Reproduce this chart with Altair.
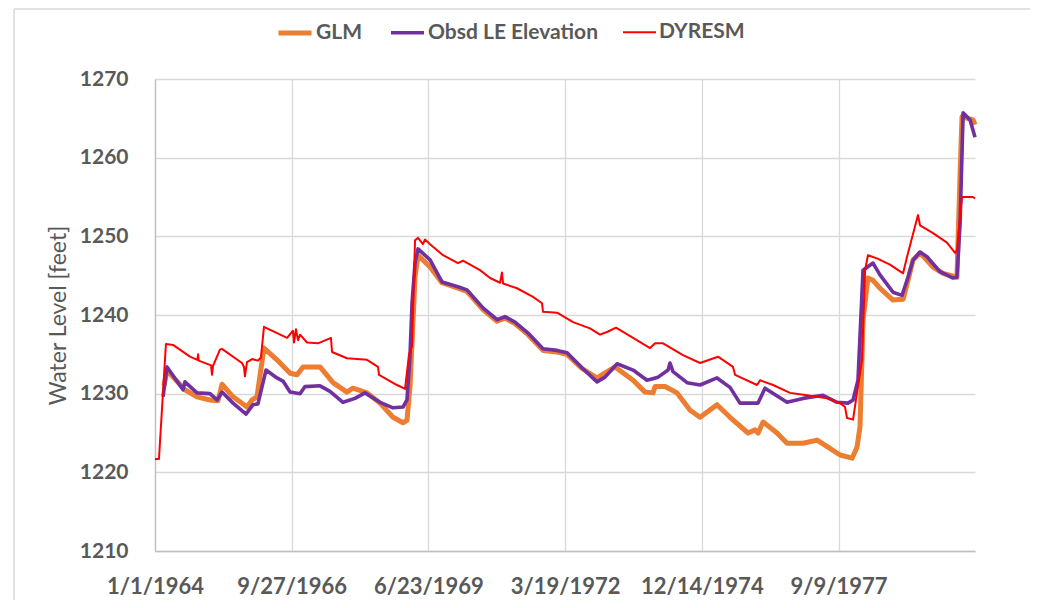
import altair as alt
import pandas as pd

BASE = pd.Timestamp("1964-01-01")

# ---- data: days since 1/1/1964 and water level (feet) ----
glm_days = [66, 88, 132, 219, 307, 402, 461, 490, 571, 673, 710, 746, 797, 892, 988, 1039, 1083,
            1207, 1302, 1404, 1448, 1551, 1646, 1741, 1814, 1843, 1865, 1902, 1924, 2012, 2099,
            2216, 2282, 2399, 2502, 2560, 2633, 2729, 2838, 2941, 3014, 3123, 3233, 3365, 3497,
            3585, 3643, 3658, 3731, 3819, 3914, 3987, 4111, 4206, 4338, 4389, 4411, 4448, 4550,
            4623, 4740, 4843, 4923, 5011, 5099, 5135, 5157, 5179, 5215, 5252, 5303, 5398, 5472,
            5508, 5545, 5596, 5691, 5764, 5866, 5889, 5903, 5984, 5998]
glm_ft = [1231.0, 1233.0, 1232.1, 1230.5, 1229.6, 1229.2, 1229.1, 1231.2, 1229.6, 1228.3, 1229.2,
          1229.6, 1235.8, 1234.3, 1232.6, 1232.4, 1233.4, 1233.4, 1231.4, 1230.2, 1230.7, 1230.1,
          1228.8, 1227.0, 1226.3, 1226.6, 1230.8, 1244.8, 1247.6, 1246.1, 1244.1, 1243.4, 1243.0,
          1240.7, 1239.2, 1239.6, 1238.9, 1237.5, 1235.5, 1235.3, 1235.0, 1233.2, 1232.0, 1233.4,
          1231.7, 1230.2, 1230.1, 1230.9, 1230.9, 1230.1, 1227.9, 1227.0, 1228.6, 1227.0, 1225.0,
          1225.4, 1225.0, 1226.4, 1225.0, 1223.7, 1223.7, 1224.1, 1223.2, 1222.2, 1221.8, 1223.2,
          1225.8, 1239.4, 1244.7, 1244.4, 1243.4, 1241.9, 1242.0, 1244.4, 1247.0, 1247.9, 1246.1,
          1245.3, 1244.8, 1258.0, 1265.2, 1264.8, 1264.2]

obs_days = [59, 88, 205, 219, 307, 402, 454, 490, 571, 666, 717, 753, 812, 892, 936, 988, 1061,
            1097, 1207, 1280, 1375, 1463, 1536, 1646, 1741, 1814, 1843, 1865, 1880, 1902, 1924,
            2012, 2099, 2216, 2282, 2399, 2502, 2560, 2633, 2729, 2838, 2941, 3014, 3123, 3233,
            3292, 3380, 3497, 3599, 3680, 3753, 3767, 3789, 3892, 3987, 4111, 4206, 4279, 4411,
            4462, 4623, 4740, 4886, 4989, 5069, 5106, 5142, 5179, 5252, 5303, 5398, 5464, 5508,
            5545, 5596, 5647, 5742, 5837, 5866, 5889, 5911, 5962, 5998]
obs_ft = [1229.6, 1233.4, 1230.5, 1231.5, 1230.1, 1230.0, 1229.2, 1230.2, 1228.8, 1227.4, 1228.6,
          1228.7, 1233.0, 1232.0, 1231.6, 1230.2, 1230.0, 1230.9, 1231.0, 1230.3, 1228.9, 1229.4,
          1230.1, 1228.9, 1228.2, 1228.3, 1229.2, 1234.7, 1241.5, 1246.6, 1248.4, 1247.0, 1244.2,
          1243.6, 1243.2, 1240.9, 1239.4, 1239.8, 1239.1, 1237.7, 1235.7, 1235.5, 1235.2, 1233.3,
          1231.5, 1232.1, 1233.8, 1233.0, 1231.7, 1232.1, 1233.0, 1233.9, 1232.8, 1231.4, 1231.1,
          1232.0, 1230.8, 1228.8, 1228.8, 1230.7, 1228.9, 1229.4, 1229.8, 1228.9, 1228.8, 1229.2,
          1231.7, 1245.7, 1246.6, 1245.1, 1242.9, 1242.5, 1244.8, 1247.0, 1248.0, 1247.4, 1245.5,
          1244.7, 1244.8, 1251.7, 1265.7, 1264.8, 1262.6]

dyr_days = [0, 29, 80, 132, 256, 310, 315, 320, 410, 417, 424, 475, 490, 636, 651, 658, 673, 710,
            753, 775, 797, 966, 1009, 1017, 1031, 1046, 1061, 1112, 1192, 1287, 1295, 1404, 1551,
            1631, 1639, 1770, 1829, 1858, 1880, 1902, 1924, 1960, 1975, 2012, 2107, 2216, 2253,
            2377, 2451, 2524, 2538, 2546, 2648, 2765, 2831, 2838, 2941, 3058, 3182, 3255, 3314,
            3372, 3497, 3621, 3658, 3716, 3862, 3987, 4118, 4228, 4243, 4404, 4426, 4521, 4645,
            4769, 4916, 5011, 5047, 5062, 5106, 5135, 5172, 5194, 5215, 5281, 5376, 5472, 5501,
            5537, 5581, 5596, 5691, 5793, 5852, 5866, 5874, 5903, 5984, 5998]
dyr_ft = [1221.7, 1221.7, 1236.3, 1236.2, 1234.7, 1234.3, 1235.0, 1234.2, 1233.6, 1232.4, 1233.5,
          1235.6, 1235.7, 1233.9, 1233.4, 1232.2, 1234.0, 1234.4, 1234.2, 1234.6, 1238.5, 1237.1,
          1238.0, 1236.5, 1238.2, 1236.8, 1237.5, 1236.5, 1236.4, 1237.1, 1235.3, 1234.5, 1234.3,
          1233.4, 1232.4, 1231.1, 1230.6, 1235.0, 1236.0, 1249.5, 1249.8, 1249.0, 1249.6, 1249.0,
          1247.6, 1246.6, 1246.9, 1245.7, 1244.7, 1244.1, 1245.4, 1244.0, 1243.4, 1242.3, 1241.5,
          1240.4, 1240.3, 1239.1, 1238.3, 1237.5, 1237.9, 1238.4, 1237.1, 1235.8, 1236.4, 1236.4,
          1234.9, 1233.9, 1234.7, 1233.4, 1232.4, 1231.1, 1231.7, 1231.1, 1230.1, 1229.8, 1229.4,
          1228.8, 1228.3, 1226.9, 1226.7, 1230.1, 1234.3, 1245.7, 1247.6, 1247.2, 1246.4, 1245.3,
          1247.4, 1249.8, 1252.7, 1251.4, 1250.4, 1249.2, 1247.9, 1248.2, 1249.9, 1255.0, 1255.0,
          1254.8]

series_names = ["GLM", "Obsd LE Elevation", "DYRESM"]
series_colors = ["#ED7D31", "#7030A0", "#FF0000"]
series_widths = [5, 3.6, 2]
x_tick_days = [0, 1000, 2000, 3000, 4000, 5000]
x_end_day = 5998
y_ticks = [1210, 1220, 1230, 1240, 1250, 1260, 1270]


def ms(d):
    return int((BASE + pd.Timedelta(days=d)).value // 10**6)


rows = []
for name, days, vals in [(series_names[0], glm_days, glm_ft),
                         (series_names[1], obs_days, obs_ft),
                         (series_names[2], dyr_days, dyr_ft)]:
    for d, v in zip(days, vals):
        rows.append({"t": ms(d), "ft": v, "series": name})
df = pd.DataFrame(rows)

FONT = "Lato"
GREY = "#595959"

legend = alt.Legend(
    orient="none", legendX=121, legendY=-65, direction="horizontal", title=None,
    symbolType="stroke", symbolSize=1089, labelFont=FONT, labelFontSize=21,
    labelFontWeight="bold", labelColor=GREY, columnPadding=20, labelOffset=2, padding=0,
    labelLimit=400,
)

lines = alt.Chart(df).mark_line(strokeJoin="round", strokeCap="butt").encode(
    x=alt.X("t:T",
            scale=alt.Scale(type="utc", domain=[ms(0), ms(x_end_day)]),
            axis=alt.Axis(values=[ms(d) for d in x_tick_days],
                          labelExpr="utcFormat(datum.value, '%-m/%-d/%Y')",
                          labelFontSize=22,
                          labelOverlap=False, labelFlush=False, title=None, labelPadding=25)),
    y=alt.Y("ft:Q",
            scale=alt.Scale(domain=[1210, 1270], nice=False, zero=False),
            axis=alt.Axis(values=y_ticks, format="d", title="Water Level [feet]",
                          labelPadding=27, titlePadding=9, titleFont=FONT, titleFontSize=23,
                          titleFontWeight="normal", titleColor=GREY)),
    color=alt.Color("series:O", scale=alt.Scale(type="ordinal", domain=series_names,
                                                range=series_colors),
                    legend=legend),
    strokeWidth=alt.StrokeWidth("series:O",
                                scale=alt.Scale(type="ordinal", domain=series_names,
                                                range=series_widths),
                                legend=legend),
)

one = pd.DataFrame({"k": [0]})
frame_left = alt.Chart(one).mark_rule(color="#d9d9d9", strokeWidth=1.5).encode(
    x=alt.value(-141), y=alt.value(-70), y2=alt.value(530))
frame_right = alt.Chart(one).mark_rule(color="#d9d9d9", strokeWidth=1.5).encode(
    x=alt.value(877), y=alt.value(-70), y2=alt.value(530))
frame_top = alt.Chart(one).mark_rule(color="#d9d9d9", strokeWidth=1.5).encode(
    x=alt.value(-141), x2=alt.value(877), y=alt.value(-70))

chart = alt.layer(frame_left, frame_right, frame_top, lines).properties(
    width=820, height=472,
    autosize=alt.AutoSizeParams(type="none"),
    padding={"left": 147, "top": 71, "right": 55, "bottom": 49},
).configure_view(strokeWidth=0).configure_axis(
    grid=True, gridColor="#d9d9d9", gridWidth=1.3,
    domainColor="#bfbfbf", domainWidth=1.3,
    ticks=False, tickSize=0,
    labelFont=FONT, labelFontSize=21, labelFontWeight="bold", labelColor=GREY,
)

chart.save("out.html", embed_options={"renderer": "svg", "actions": False})
